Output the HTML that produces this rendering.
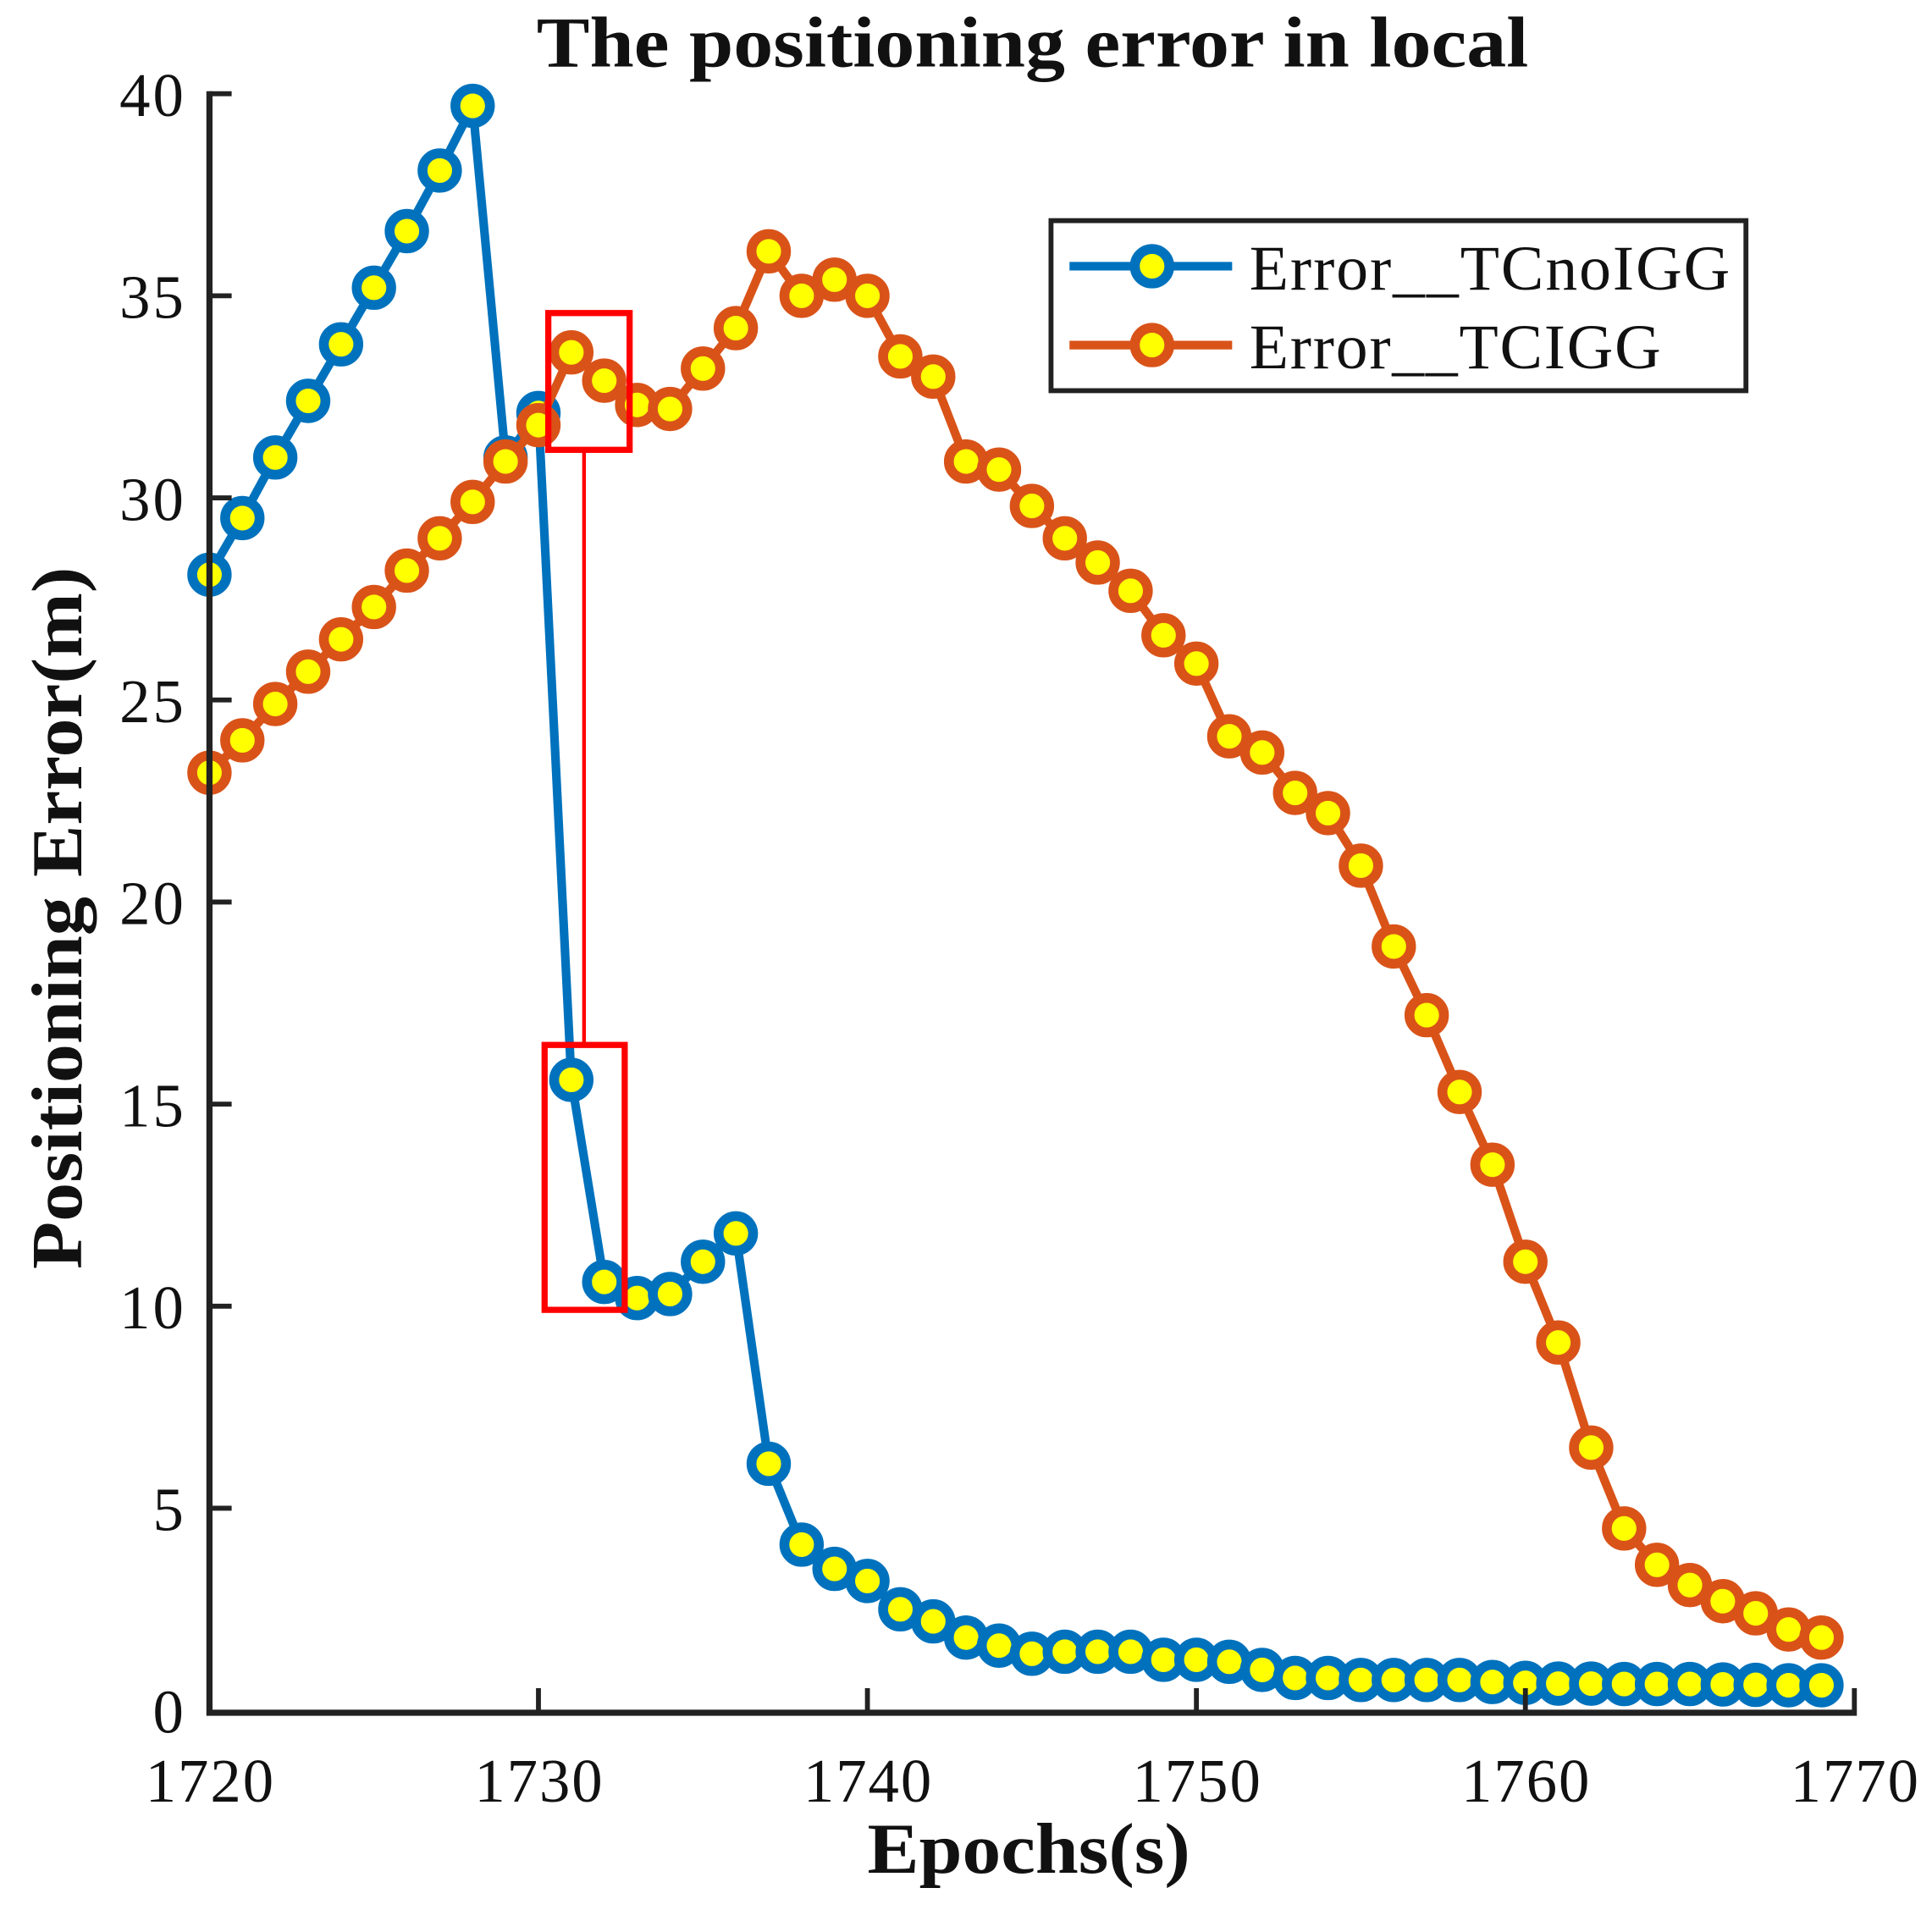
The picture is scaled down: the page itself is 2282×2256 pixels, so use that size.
<!DOCTYPE html>
<html><head><meta charset="utf-8"><style>
html,body{margin:0;padding:0;background:#fff;}
svg{display:block;}
text{font-family:"Liberation Serif",serif;fill:#111;}
</style></head><body>
<svg id="s" width="2282" height="2256" viewBox="0 0 1568 1550" xmlns="http://www.w3.org/2000/svg">
<rect width="1568" height="1550" fill="#fff"/>
<text x="838" y="54" font-size="58" font-weight="bold" text-anchor="middle" textLength="805" lengthAdjust="spacingAndGlyphs">The positioning error in local</text>
<g id="plot"></g>
<path d="M170,74 V1390 H1507" fill="none" stroke="#222" stroke-width="5"/>
<g stroke="#222" stroke-width="4">
<line x1="170" y1="76" x2="188" y2="76"/><line x1="170" y1="240" x2="188" y2="240"/><line x1="170" y1="404" x2="188" y2="404"/><line x1="170" y1="568" x2="188" y2="568"/><line x1="170" y1="732" x2="188" y2="732"/><line x1="170" y1="896" x2="188" y2="896"/><line x1="170" y1="1060" x2="188" y2="1060"/><line x1="170" y1="1224" x2="188" y2="1224"/>
<line x1="437" y1="1388" x2="437" y2="1370"/><line x1="704" y1="1388" x2="704" y2="1370"/><line x1="971" y1="1388" x2="971" y2="1370"/><line x1="1238" y1="1388" x2="1238" y2="1370"/><line x1="1505" y1="1388" x2="1505" y2="1370"/>
</g>
<g font-size="50" text-anchor="end">
<text x="149" y="94" textLength="52">40</text><text x="149" y="258" textLength="52">35</text><text x="149" y="422" textLength="52">30</text><text x="149" y="586" textLength="52">25</text><text x="149" y="750" textLength="52">20</text><text x="149" y="914" textLength="52">15</text><text x="149" y="1078" textLength="52">10</text><text x="149" y="1242">5</text><text x="149" y="1406">0</text>
</g>
<g font-size="50" text-anchor="middle">
<text x="170" y="1462" textLength="104">1720</text><text x="437" y="1462" textLength="104">1730</text><text x="704" y="1462" textLength="104">1740</text><text x="971" y="1462" textLength="104">1750</text><text x="1238" y="1462" textLength="104">1760</text><text x="1505" y="1462" textLength="104">1770</text>
</g>
<text x="835" y="1520" font-size="58" font-weight="bold" text-anchor="middle" textLength="262" lengthAdjust="spacingAndGlyphs">Epochs(s)</text>
<text transform="translate(66,745) rotate(-90)" font-size="58" font-weight="bold" text-anchor="middle" textLength="570" lengthAdjust="spacingAndGlyphs">Positioning Error(m)</text>
<g fill="none" stroke="#ff0000">
<rect x="445" y="254" width="66" height="111" stroke-width="5"/>
<rect x="442" y="848" width="65" height="215" stroke-width="5"/>
<line x1="474" y1="365" x2="474" y2="848" stroke-width="3"/>
</g>
<rect x="853" y="179" width="564" height="138" fill="#fff" stroke="#222" stroke-width="4"/>
<line x1="868" y1="216" x2="1000" y2="216" stroke="#0072BD" stroke-width="7"/>
<circle cx="935" cy="216" r="14" fill="#FFFF00" stroke="#0072BD" stroke-width="8"/>
<line x1="868" y1="280" x2="1000" y2="280" stroke="#D95319" stroke-width="7"/>
<circle cx="935" cy="280" r="14" fill="#FFFF00" stroke="#D95319" stroke-width="8"/>
<text x="1014" y="235" font-size="52" textLength="390">Error__TCnoIGG</text>
<text x="1014" y="299" font-size="52" textLength="334">Error__TCIGG</text>
</svg>
<script>
var blue=[28.1,29.5,31.0,32.4,33.8,35.2,36.6,38.1,39.7,31.0,32.1,15.6,10.6,10.2,10.3,11.1,11.8,6.1,4.1,3.5,3.2,2.5,2.2,1.8,1.6,1.4,1.45,1.45,1.45,1.25,1.25,1.2,1.0,0.8,0.8,0.75,0.75,0.75,0.75,0.7,0.68,0.66,0.66,0.65,0.65,0.65,0.64,0.63,0.62,0.62];
var orange=[23.2,24.0,24.9,25.7,26.5,27.3,28.2,29.0,29.9,30.9,31.8,33.6,32.9,32.3,32.2,33.2,34.2,36.1,35.0,35.4,35.0,33.5,33.0,30.9,30.7,29.8,29.0,28.4,27.7,26.6,25.9,24.1,23.7,22.7,22.2,20.9,18.9,17.2,15.3,13.5,11.1,9.1,6.5,4.5,3.6,3.1,2.7,2.4,2.0,1.8];
var g=document.getElementById('plot'),ns='http://www.w3.org/2000/svg';
function series(d,c){
 var pts=d.map(function(v,i){return [170+i*26.7,1388-32.8*v];});
 var pl=document.createElementNS(ns,'polyline');
 pl.setAttribute('points',pts.map(function(p){return p.join(',')}).join(' '));
 pl.setAttribute('fill','none');pl.setAttribute('stroke',c);pl.setAttribute('stroke-width','7');pl.setAttribute('stroke-linejoin','round');
 g.appendChild(pl);
 pts.forEach(function(p){
  var ci=document.createElementNS(ns,'circle');
  ci.setAttribute('cx',p[0]);ci.setAttribute('cy',p[1]);ci.setAttribute('r','14');
  ci.setAttribute('fill','#FFFF00');ci.setAttribute('stroke',c);ci.setAttribute('stroke-width','8');
  g.appendChild(ci);
 });
}
series(blue,'#0072BD');
series(orange,'#D95319');
</script>
</body></html>
